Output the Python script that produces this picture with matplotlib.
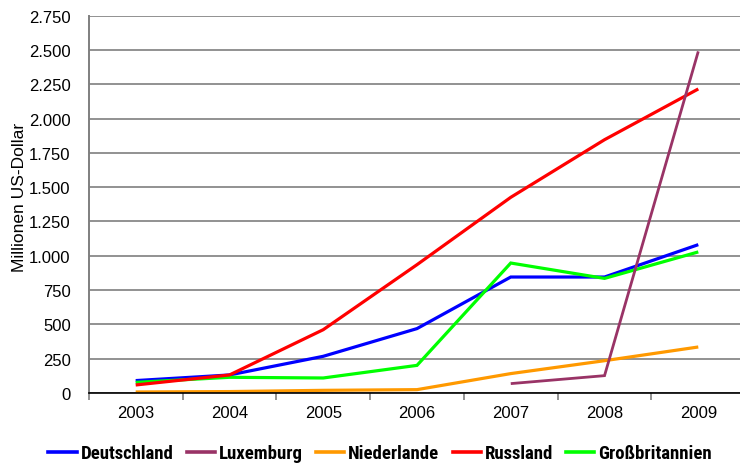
import numpy as np
import matplotlib
matplotlib.use('Agg')
import matplotlib.pyplot as plt
from matplotlib.lines import Line2D
from matplotlib import font_manager

plt.rcParams['font.family'] = ['Liberation Sans', 'DejaVu Sans']

# ===== data =====
years = ['2003', '2004', '2005', '2006', '2007', '2008', '2009']
deutschland = [90, 131, 267, 469, 845, 845, 1081]
luxemburg = [np.nan, np.nan, np.nan, np.nan, 68, 126, 2490]
niederlande = [7, 10, 19, 24, 141, 235, 335]
russland = [58, 131, 461, 935, 1426, 1846, 2216]
grossbritannien = [77, 114, 109, 201, 947, 835, 1028]

series = [
    ('Deutschland', deutschland, '#0000ff', 2.3),
    ('Luxemburg', luxemburg, '#993366', 2.0),
    ('Niederlande', niederlande, '#ff9900', 2.3),
    ('Russland', russland, '#ff0000', 2.3),
    ('Großbritannien', grossbritannien, '#00ff00', 2.3),
]

# schmale Schrift für die Legende, falls vorhanden
installed = {f.name for f in font_manager.fontManager.ttflist}
legend_font = 'Liberation Sans'
for cand in ['Liberation Sans Narrow', 'Arial Narrow', 'Roboto Condensed']:
    if cand in installed:
        legend_font = cand
        break

fig = plt.figure(figsize=(7.4, 4.64), dpi=100)
ax = fig.add_axes([0.120, 0.151, 0.887, 0.813])

x = np.arange(len(years))
for name, vals, col, lw in [series[2], series[0], series[4], series[3], series[1]]:
    ax.plot(x, vals, color=col, lw=lw, solid_capstyle='butt', solid_joinstyle='miter')

ax.set_xlim(-0.5, len(years) - 0.5)
ax.set_ylim(0, 2750)
yt = np.arange(0, 2751, 250)
ax.set_yticks(yt)
ax.set_yticklabels([f'{v:,}'.replace(',', '.') for v in yt], fontsize=12)
ax.yaxis.grid(True, color='#7f7f7f', lw=1.2)
ax.set_axisbelow(True)

ax.set_xticks(x)
ax.set_xticklabels(years, fontsize=12)
ax.set_xticks(np.arange(-0.5, len(years)), minor=True)
ax.tick_params(axis='x', which='major', length=0, pad=9)
ax.tick_params(axis='x', which='minor', length=5, color='#7f7f7f', width=1.2)
ax.tick_params(axis='y', length=0, pad=13)

for s in ['top', 'right']:
    ax.spines[s].set_visible(False)
ax.spines['left'].set_color('#7f7f7f')
ax.spines['left'].set_linewidth(1.4)
ax.spines['bottom'].set_color('black')
ax.spines['bottom'].set_linewidth(1.2)

ax.set_ylabel('Millionen US-Dollar', fontsize=12.5)
ax.yaxis.set_label_coords(-0.094, 0.52)

handles = [Line2D([], [], color=c, lw=2.6) for _, _, c, _ in series]
fig.legend(handles, [n for n, _, _, _ in series], loc='center', ncol=5,
           bbox_to_anchor=(0.514, 0.021), frameon=False, handlelength=1.5,
           handletextpad=0.22, columnspacing=0.7,
           prop={'family': [legend_font, 'DejaVu Sans'], 'weight': 'bold', 'size': 13.5})

fig.savefig('out.png', dpi=100)
